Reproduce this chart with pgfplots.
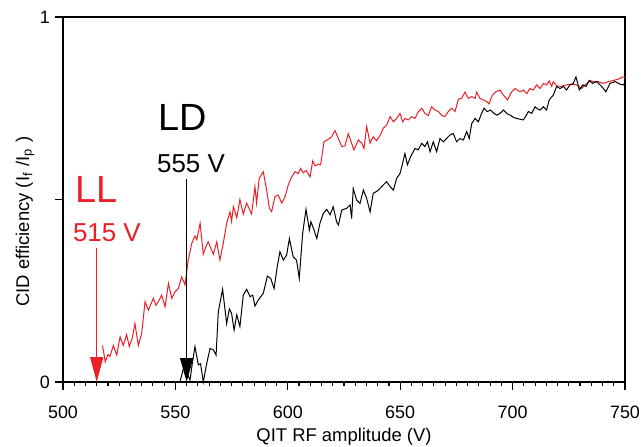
\documentclass[border=0pt]{standalone}
\usepackage{fontspec}
\setmainfont{Liberation Sans}
\usepackage{pgfplots}
\pgfplotsset{compat=1.18}
\usetikzlibrary{arrows.meta}
\definecolor{llred}{RGB}{236,30,38}

\pgfplotstableread{
v y
517.6 0.10
518.8 0.055
520.0 0.075
520.9 0.07
522.4 0.10
523.9 0.074
525.4 0.124
526.8 0.10
528.3 0.13
529.5 0.097
530.8 0.12
532.0 0.16
533.5 0.10
535.0 0.133
536.5 0.22
538.0 0.197
539.2 0.215
540.2 0.229
541.3 0.21
542.4 0.22
543.9 0.238
545.4 0.206
546.9 0.27
548.4 0.229
549.8 0.247
551.3 0.256
552.8 0.288
554.3 0.266
555.7 0.334
557.3 0.38
558.7 0.40
559.5 0.39
561.0 0.435
562.4 0.35
563.5 0.37
564.6 0.384
566.9 0.35
568.4 0.384
569.8 0.334
571.3 0.38
572.8 0.435
574.3 0.466
575.0 0.44
575.8 0.48
577.3 0.45
578.7 0.50
580.2 0.46
581.7 0.49
583.9 0.46
585.4 0.535
586.1 0.49
587.3 0.558
589.1 0.576
590.6 0.526
591.8 0.476
592.8 0.467
594.3 0.508
595.8 0.512
597.3 0.49
598.8 0.508
600.2 0.54
601.7 0.562
603.2 0.576
604.7 0.571
605.7 0.585
606.9 0.573
608.1 0.58
609.9 0.562
611.1 0.606
612.1 0.592
613.6 0.597
614.6 0.595
616.1 0.658
618.0 0.665
619.5 0.672
621.0 0.689
622.5 0.667
624.0 0.645
625.4 0.647
626.9 0.68
628.4 0.654
629.4 0.636
631.4 0.663
632.9 0.654
633.9 0.64
635.1 0.70
636.6 0.654
638.0 0.672
639.5 0.661
641.0 0.675
642.5 0.695
644.0 0.704
645.5 0.727
647.0 0.713
648.4 0.722
649.9 0.736
651.1 0.713
652.1 0.722
653.6 0.718
655.1 0.727
656.6 0.722
658.0 0.74
659.6 0.75
661.0 0.736
662.5 0.73
664.0 0.754
665.5 0.745
667.0 0.741
668.4 0.731
669.9 0.727
671.4 0.741
672.9 0.75
674.4 0.741
675.9 0.775
677.3 0.777
678.8 0.794
680.3 0.777
681.8 0.782
683.3 0.777
684.0 0.794
685.5 0.777
687.0 0.773
688.5 0.768
689.5 0.762
691.0 0.786
692.5 0.795
694.4 0.80
695.9 0.786
697.7 0.773
699.6 0.795
701.1 0.804
703.3 0.795
704.8 0.80
706.3 0.79
707.7 0.804
709.2 0.80
710.7 0.814
712.2 0.804
713.7 0.818
715.1 0.814
716.3 0.825
717.4 0.81
718.1 0.823
719.6 0.811
721.8 0.81
724.0 0.814
726.3 0.816
728.5 0.814
730.7 0.804
733.0 0.818
734.4 0.826
735.9 0.823
738.1 0.823
740.4 0.818
742.6 0.823
744.8 0.826
747.1 0.83
749.0 0.836
750.0 0.834
}\lldata

\pgfplotstableread{
v y
552.0 0.0
553.3 0.03
554.3 0.06
555.5 0.02
556.5 0.005
557.5 0.05
558.7 0.097
560.2 0.047
561.2 0.05
562.4 0.0
563.9 0.05
565.4 0.092
566.9 0.088
568.1 0.074
569.1 0.193
571.0 0.254
572.8 0.16
574.0 0.20
575.0 0.188
576.1 0.142
577.3 0.184
578.7 0.152
580.2 0.238
581.7 0.254
583.2 0.234
584.4 0.238
585.4 0.208
586.9 0.225
589.1 0.243
590.9 0.29
592.4 0.284
593.9 0.256
595.3 0.316
596.5 0.357
598.0 0.334
599.5 0.348
600.7 0.393
602.4 0.343
603.9 0.334
605.1 0.284
606.6 0.407
608.1 0.473
609.6 0.416
610.3 0.439
611.4 0.421
612.9 0.393
614.3 0.435
615.8 0.462
617.3 0.473
618.8 0.458
620.2 0.48
621.7 0.439
622.5 0.43
624.0 0.471
626.2 0.476
627.7 0.485
628.4 0.448
629.1 0.53
630.6 0.499
632.1 0.489
633.6 0.526
635.1 0.503
636.6 0.466
638.0 0.517
639.5 0.522
641.0 0.53
642.5 0.54
644.0 0.549
645.5 0.535
647.0 0.526
648.4 0.558
649.9 0.571
650.7 0.59
652.1 0.626
653.2 0.595
654.6 0.617
656.6 0.64
658.0 0.636
659.6 0.654
661.0 0.645
662.1 0.658
663.3 0.631
664.7 0.658
666.2 0.631
667.7 0.667
669.2 0.658
670.6 0.667
672.2 0.677
673.6 0.681
675.1 0.658
676.6 0.667
678.1 0.663
679.6 0.686
680.7 0.667
681.8 0.708
683.3 0.722
684.8 0.713
686.2 0.736
687.3 0.75
688.7 0.741
690.2 0.745
691.7 0.736
693.0 0.731
694.4 0.736
696.0 0.745
697.5 0.735
699.0 0.731
700.4 0.725
701.8 0.722
703.3 0.72
704.8 0.718
706.0 0.73
707.0 0.741
708.5 0.736
710.0 0.754
711.1 0.748
712.2 0.745
713.7 0.754
715.1 0.745
716.3 0.773
718.1 0.786
719.6 0.81
721.1 0.804
722.6 0.81
724.0 0.80
725.5 0.814
727.0 0.818
728.2 0.836
729.7 0.80
731.2 0.814
732.7 0.81
734.1 0.826
735.6 0.818
737.4 0.823
739.6 0.81
741.5 0.795
743.3 0.818
745.6 0.823
747.8 0.816
749.3 0.814
750.0 0.82
}\lddata

\begin{document}
\begin{tikzpicture}
\useasboundingbox (-63bp,-65bp) rectangle (578bp,382bp);
\begin{axis}[
  scale only axis,
  width=562bp, height=365bp,
  xmin=500, xmax=750, ymin=0, ymax=1,
  xtick={500,550,...,750},
  minor x tick num=9,
  ytick={0,0.5,1},
  yticklabels={0,,1},
  xtick pos=left, ytick pos=left,
  tick align=outside,
  major tick length=8bp,
  minor tick length=4bp,
  axis line style={line width=1.6bp},
  tick style={line width=1.1bp, black},
  /pgf/number format/assume math mode=true,
  /pgf/number format/1000 sep={},
  tick label style={font=\fontsize{18}{20}\selectfont},
  xticklabel style={anchor=base, inner sep=0pt, yshift=-28bp},
  yticklabel style={anchor=east, inner sep=0pt, xshift=-5bp},
  xlabel={QIT RF amplitude (V)},
  ylabel={CID efficiency (I\textsubscript{f}\,\,/I\textsubscript{p}\,\,)},
  label style={font=\fontsize{18.5}{20}\selectfont},
  xlabel style={at={(axis description cs:0.5,0)}, anchor=base, inner sep=0pt, yshift=-59bp},
  ylabel style={at={(axis description cs:-0.0676,0.44)}, anchor=center, inner sep=0pt},
  clip=false,
]
\addplot[llred, line width=1bp] table[x=v, y=y] {\lldata};
\addplot[black, line width=1bp] table[x=v, y=y] {\lddata};

\draw[llred, line width=1.5bp, -{Triangle[width=13bp,length=25bp]}] (axis cs:515,0.367) -- (axis cs:515,0);
\draw[black, line width=1.5bp, -{Triangle[width=13bp,length=24bp]}] (axis cs:555,0.556) -- (axis cs:555,0);

\node[anchor=base west, inner sep=0pt, text=llred, font=\fontsize{38}{40}\selectfont] at (axis cs:505.3,0.493) {LL};
\node[anchor=base west, inner sep=0pt, text=llred, font=\fontsize{26}{28}\selectfont] at (axis cs:504.4,0.386) {515 V};
\node[anchor=base west, inner sep=0pt, font=\fontsize{38}{40}\selectfont] at (axis cs:542.3,0.690) {LD};
\node[anchor=base west, inner sep=0pt, font=\fontsize{26}{28}\selectfont] at (axis cs:541.8,0.575) {555 V};
\end{axis}
\end{tikzpicture}
\end{document}
